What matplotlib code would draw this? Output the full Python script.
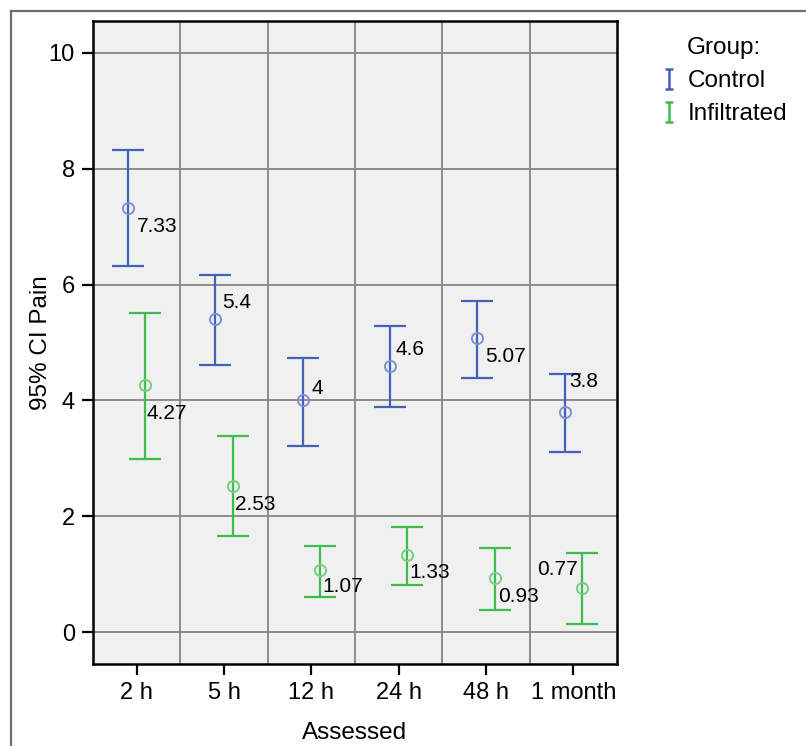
import matplotlib.pyplot as plt
import numpy as np
from matplotlib.path import Path
from matplotlib.lines import Line2D
from matplotlib import font_manager

# Datos
assessed = ['2 h', '5 h', '12 h', '24 h', '48 h', '1 month']
control_mean = [7.33, 5.4, 4.0, 4.6, 5.07, 3.8]
control_low = [6.32, 4.61, 3.22, 3.89, 4.38, 3.11]
control_high = [8.32, 6.17, 4.74, 5.28, 5.72, 4.45]
infil_mean = [4.27, 2.53, 1.07, 1.33, 0.93, 0.77]
infil_low = [2.99, 1.66, 0.61, 0.81, 0.38, 0.14]
infil_high = [5.51, 3.38, 1.49, 1.81, 1.45, 1.36]

# desplazamiento de las etiquetas (pixeles) respecto a la media
control_lbl_off = [(9, -19), (7, 17), (9, 12), (6, 16), (8, -18), (5, 31)]
infil_lbl_off = [(1, -29), (2, -19), (2, -16), (2, -17), (3, -18), (-4, 18)]

blue = '#4262b8'
blue_light = '#7d90d2'
green = '#3dbd4d'
green_light = '#74d07f'

plt.rcParams['font.family'] = ['Liberation Sans', 'DejaVu Sans']

# fuente estrecha para las etiquetas si existe
fuentes = {f.name for f in font_manager.fontManager.ttflist}
if 'Liberation Sans Narrow' in fuentes:
    lbl_font, lbl_size = 'Liberation Sans Narrow', 15.5
else:
    lbl_font, lbl_size = 'Liberation Sans', 15

fig = plt.figure(figsize=(8.06, 7.46), dpi=100)
ax = fig.add_axes([93 / 806, 1 - 664 / 746, 524 / 806, 643 / 746])
ax.set_facecolor('#f0f0f0')

x = np.arange(len(assessed))
dx = 0.1


def dibujar(xs, mean, low, high, col, col_light, offs):
    mean = np.array(mean)
    err = [mean - np.array(low), np.array(high) - mean]
    ax.errorbar(xs, mean, yerr=err, fmt='none', ecolor=col, elinewidth=1.6,
                capsize=11.5, capthick=1.6, zorder=3)
    ax.plot(xs, mean, 'o', mfc='none', mec=col_light, ms=8, mew=1.4, zorder=4)
    for xi, m, (ox, oy) in zip(xs, mean, offs):
        ax.annotate(f'{m:g}', (xi, m), xytext=(ox, oy), textcoords='offset pixels',
                    ha='left' if ox >= 0 else 'right', va='center',
                    fontsize=lbl_size, family=[lbl_font, 'DejaVu Sans'], zorder=5)


dibujar(x - dx, control_mean, control_low, control_high, blue, blue_light, control_lbl_off)
dibujar(x + dx, infil_mean, infil_low, infil_high, green, green_light, infil_lbl_off)

ax.set_xlim(-0.5, len(assessed) - 0.5)
ax.set_ylim(-0.55, 10.55)
ax.set_yticks([0, 2, 4, 6, 8, 10])
ax.set_xticks(x)
ax.set_xticklabels(assessed)
ax.set_xticks(x[:-1] + 0.5, minor=True)
ax.tick_params(which='minor', length=0)
ax.grid(True, axis='y', which='major', color='#8c8c8c', lw=1.4, zorder=1)
ax.grid(True, axis='x', which='minor', color='#8c8c8c', lw=1.4, zorder=1)
ax.set_axisbelow(True)
ax.tick_params(which='major', direction='out', length=8, width=1.6,
               labelsize=17, pad=5)
for s in ax.spines.values():
    s.set_linewidth(1.8)
    s.set_color('black')

ax.set_xlabel('Assessed', fontsize=17.5, labelpad=13)
ax.set_ylabel('95% CI Pain', fontsize=17.5, labelpad=-2.5)

# leyenda con marcadores en forma de I
ibeam = Path([(-0.4, 1), (0.4, 1), (0, 1), (0, -1), (-0.4, -1), (0.4, -1)],
             [Path.MOVETO, Path.LINETO, Path.MOVETO, Path.LINETO, Path.MOVETO, Path.LINETO])
handles = [Line2D([], [], ls='none', marker=ibeam, ms=15, mew=1.8, mec=blue),
           Line2D([], [], ls='none', marker=ibeam, ms=15, mew=1.8, mec=green)]
leg = fig.legend(handles, ['Control', 'Infiltrated'], title='Group:',
                 loc='upper left', bbox_to_anchor=(648 / 806, 1 - 25 / 746),
                 frameon=False, fontsize=17.5, title_fontsize=17.5,
                 handlelength=0.7, handletextpad=0.45, labelspacing=0.45,
                 borderpad=0)

# marco exterior
fig.add_artist(Line2D([11 / 806, 11 / 806], [0, 1 - 11 / 746], color='#6e6e6e', lw=1.6))
fig.add_artist(Line2D([11 / 806, 1], [1 - 11 / 746, 1 - 11 / 746], color='#6e6e6e', lw=1.6))

fig.savefig('out.png', dpi=100)
